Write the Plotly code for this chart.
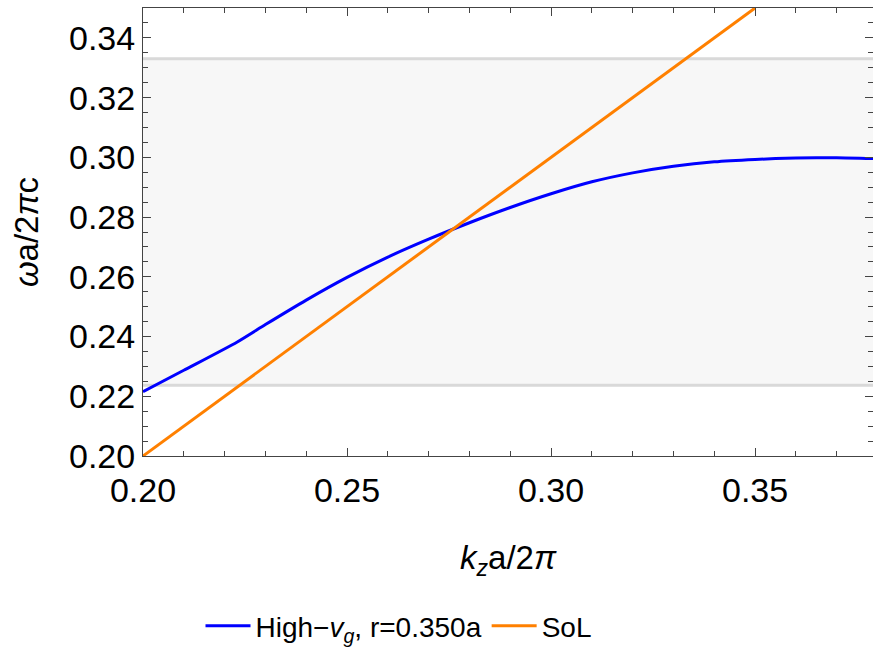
import plotly.graph_objects as go

# Dispersion of the high-group-velocity mode and the speed-of-light line
kz = [0.200, 0.210, 0.223, 0.230, 0.240, 0.250, 0.260, 0.270, 0.280, 0.290,
      0.300, 0.310, 0.320, 0.330, 0.340, 0.350, 0.360, 0.370, 0.379]
omega = [0.2215, 0.2287, 0.2381, 0.2440, 0.2522, 0.2598, 0.2666, 0.2726, 0.2781, 0.2832,
         0.2878, 0.2918, 0.2948, 0.2970, 0.2985, 0.2993, 0.2998, 0.2999, 0.2996]
sol_k = [0.20, 0.35]
sol_w = [0.20, 0.35]
band_edges = [0.2237, 0.3330]   # band gap limits

x_range = [0.2, 0.3789]
y_range = [0.2, 0.35]

FONT = "Liberation Sans, Arial, sans-serif"
AX = "#444444"

fig = go.Figure()
fig.add_trace(go.Scatter(x=kz, y=omega, mode="lines",
                         line=dict(color="#0000ff", width=3, shape="spline", smoothing=0.6),
                         name="High\u2212<i>v<sub>g</sub></i>, r=0.350a"))
fig.add_trace(go.Scatter(x=sol_k, y=sol_w, mode="lines",
                         line=dict(color="#ff8000", width=3),
                         name="SoL"))

# shaded gap region with its edge lines
fig.add_shape(type="rect", xref="paper", yref="y", x0=0, x1=1,
              y0=band_edges[0], y1=band_edges[1],
              fillcolor="#f7f7f7", line=dict(width=0), layer="below")
for yb in band_edges:
    fig.add_shape(type="line", xref="paper", yref="y", x0=0, x1=1, y0=yb, y1=yb,
                  line=dict(color="#d9d9d9", width=3), layer="below")

axis_common = dict(
    showgrid=False, zeroline=False, showline=True, linecolor=AX, linewidth=1,
    mirror="ticks", ticks="inside", ticklen=8, tickcolor=AX, tickwidth=1,
    tickfont=dict(family=FONT, size=34, color="black"),
)

fig.update_xaxes(range=x_range, dtick=0.05, tick0=0.2, tickformat=".2f",
                 ticklabelstandoff=4,
                 minor=dict(dtick=0.01, ticks="inside", ticklen=5, tickcolor=AX),
                 title=dict(text="<i>k<sub>z</sub></i>a/2<i>\u03c0</i>",
                            font=dict(family=FONT, size=33, color="black"), standoff=38),
                 **axis_common)
fig.update_yaxes(range=y_range, dtick=0.02, tick0=0.2, tickformat=".2f",
                 minor=dict(dtick=0.005, ticks="inside", ticklen=5, tickcolor=AX),
                 title=dict(text="<i>\u03c9</i>a/2<i>\u03c0</i>c",
                            font=dict(family=FONT, size=33, color="black"), standoff=20),
                 **axis_common)

fig.update_layout(
    width=873, height=651,
    margin=dict(l=143, r=0, t=8, b=189),
    plot_bgcolor="white", paper_bgcolor="white",
    font=dict(family=FONT, color="black"),
    legend=dict(orientation="h", x=0.35, xanchor="center", y=-0.38, yanchor="middle",
                itemwidth=45,
                font=dict(family=FONT, size=28, color="black"),
                bgcolor="rgba(0,0,0,0)"),
)

fig.write_html("out.html")
